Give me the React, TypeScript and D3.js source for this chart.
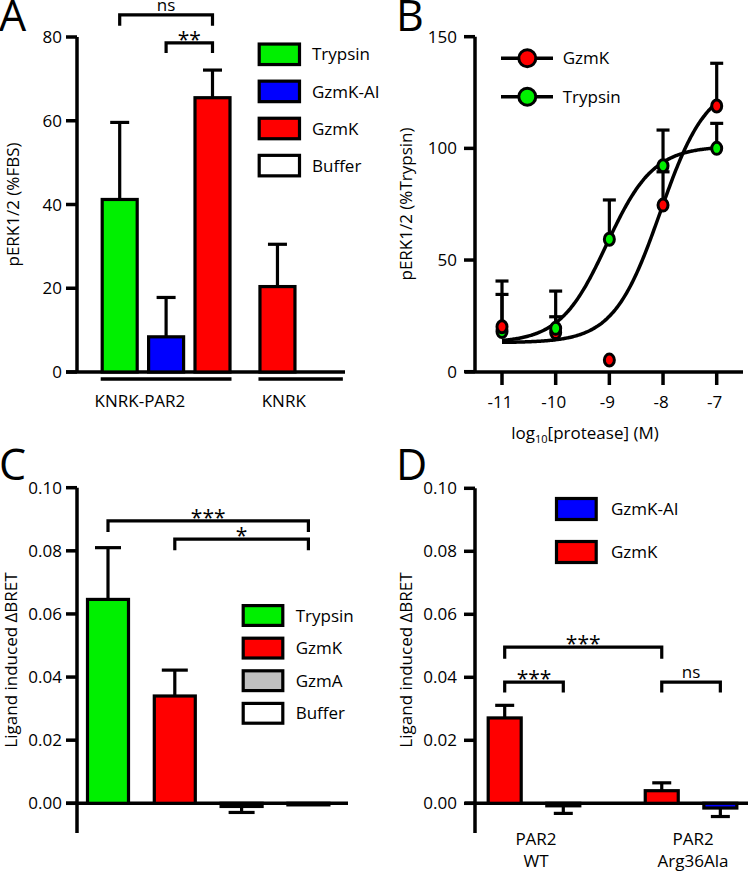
import React from "react";
import * as d3 from "d3";

const FONT = "'Open Sans', 'Noto Sans', Arial, sans-serif";
const FS = 17;

// ---------- Panel A data ----------
const aLegend = ["Trypsin", "GzmK-AI", "GzmK", "Buffer"];
const aLegendColors = ["#00f000", "#0000ff", "#ff0000", "#ffffff"];
const aGroups = ["KNRK-PAR2", "KNRK"];
const aBarGroup = [0, 0, 0, 1, 1];
const aBarTreatment = ["Trypsin", "GzmK-AI", "GzmK", "GzmK", "Buffer"];
const aMean = [41.2, 8.4, 65.5, 20.4, 0];
const aSem = [18.4, 9.4, 6.6, 10.1, 0];
const aTicks = [0, 20, 40, 60, 80];
const aBrackets = [
  { a: 0, b: 2, label: "ns", top: 85.3, leg: 82.7 },
  { a: 1, b: 2, label: "**", top: 78.6, leg: 76.2 },
];

// ---------- Panel B data ----------
const bDoses = [-11, -10, -9, -8, -7];
const bGzmK = [20.1, 17.5, 5.2, 74.6, 119];
const bGzmKErr = [20.5, 7.1, 0, 14.9, 19.1];
const bTrypsin = [18, 19.4, 59.3, 92.2, 100];
const bTrypsinErr = [16.6, 16.7, 17.6, 16, 11.2];
const bTicksY = [0, 50, 100, 150];
// four-parameter logistic fits (bottom, top, logEC50, hill)
const bFitGzmK = [13, 130, -8.05, 1];
const bFitTrypsin = [13, 101, -9.05, 1];

// ---------- Panel C data ----------
const cTreatments = ["Trypsin", "GzmK", "GzmA", "Buffer"];
const cColors = ["#00f000", "#ff0000", "#c0c0c0", "#ffffff"];
const cMean = [0.0646, 0.034, -0.001, -0.0005];
const cSem = [0.0164, 0.0082, 0.0019, 0];
const cTicks = [0, 0.02, 0.04, 0.06, 0.08, 0.1];
const cBrackets = [
  { a: 0, b: 3, label: "***", top: 0.0895, leg: 0.086 },
  { a: 1, b: 3, label: "*", top: 0.0837, leg: 0.0802 },
];

// ---------- Panel D data ----------
const dLegend = ["GzmK-AI", "GzmK"];
const dLegendColors = ["#0000ff", "#ff0000"];
const dGroupLabels = [["PAR2", "WT"], ["PAR2", "Arg36Ala"]];
const dBarGroup = [0, 0, 1, 1];
const dBarTreatment = ["GzmK", "GzmK-AI", "GzmK", "GzmK-AI"];
const dMean = [0.0271, -0.0008, 0.004, -0.0015];
const dSem = [0.004, 0.0024, 0.0025, 0.0027];
const dBrackets = [
  { a: 0, b: 2, label: "***", top: 0.0496, leg: 0.0459 },
  { a: 0, b: 1, label: "***", top: 0.0385, leg: 0.0352 },
  { a: 2, b: 3, label: "ns", top: 0.0385, leg: 0.0352 },
];

const colorOf: Record<string, string> = {
  Trypsin: "#00f000",
  "GzmK-AI": "#0000ff",
  GzmK: "#ff0000",
  GzmA: "#c0c0c0",
  Buffer: "#ffffff",
};

const SW = 3.2;

function YAxis({ x, y, ticks, fmt, tickLen, labelX, top, bottom }: any) {
  return (
    <g>
      <line x1={x} x2={x} y1={top} y2={bottom} stroke="#000" strokeWidth={3.5} />
      {ticks.map((t: number) => (
        <g key={t}>
          <line x1={x - tickLen} x2={x} y1={y(t)} y2={y(t)} stroke="#000" strokeWidth={3.5} />
          <text x={labelX} y={y(t)} dy="0.36em" textAnchor="end" fontSize={FS} fontFamily={FONT}>
            {fmt(t)}
          </text>
        </g>
      ))}
    </g>
  );
}

function Bars({ centers, y, means, sems, treatments, width, capW }: any) {
  return (
    <g>
      {means.map((m: number, i: number) => {
        const cx = centers[i];
        const y0 = y(0);
        const y1 = y(m);
        const ye = y(m + (m >= 0 ? sems[i] : -sems[i]));
        return (
          <g key={i}>
            {sems[i] > 0 && (
              <g stroke="#000" strokeWidth={SW}>
                <line x1={cx} x2={cx} y1={y1} y2={ye} />
                <line x1={cx - capW / 2} x2={cx + capW / 2} y1={ye} y2={ye} />
              </g>
            )}
            <rect
              x={cx - width / 2}
              width={width}
              y={Math.min(y0, y1)}
              height={Math.abs(y1 - y0)}
              fill={colorOf[treatments[i]]}
              stroke="#000"
              strokeWidth={SW}
            />
          </g>
        );
      })}
    </g>
  );
}

function Brackets({ items, centers, y, fs }: any) {
  return (
    <g>
      {items.map((b: any, i: number) => {
        const x1 = centers[b.a];
        const x2 = centers[b.b];
        const yt = y(b.top);
        const yl = y(b.leg);
        const isStar = b.label.indexOf("*") >= 0;
        return (
          <g key={i}>
            <path
              d={`M${x1},${yl}V${yt}H${x2}V${yl}`}
              fill="none"
              stroke="#000"
              strokeWidth={3.2}
            />
            <text
              x={(x1 + x2) / 2}
              y={isStar ? yt + 4 : yt - 4}
              textAnchor="middle"
              fontSize={isStar ? fs + 4 : fs}
              fontFamily={FONT}
            >
              {b.label}
            </text>
          </g>
        );
      })}
    </g>
  );
}

function BoxLegend({ labels, colors, x, y0, step, w, h, textX }: any) {
  return (
    <g>
      {labels.map((l: string, i: number) => (
        <g key={l}>
          <rect
            x={x}
            y={y0 + i * step - h / 2}
            width={w}
            height={h}
            fill={colors[i]}
            stroke="#000"
            strokeWidth={SW}
          />
          <text x={textX} y={y0 + i * step} dy="0.36em" fontSize={FS} fontFamily={FONT}>
            {l}
          </text>
        </g>
      ))}
    </g>
  );
}

function logistic(p: number[], x: number) {
  const [bottom, top, ec, hill] = p;
  return bottom + (top - bottom) / (1 + Math.pow(10, hill * (ec - x)));
}

function PanelA() {
  const y = d3.scaleLinear().domain([0, 80]).range([372, 37]);
  const slot = d3.scaleLinear().domain([0, 1]).range([119.7, 166.1]);
  const groupGap = 0.4;
  const centers = aMean.map((_, i) => slot(i + aBarGroup[i] * groupGap));
  const barW = 35;
  const groupExtents = aGroups.map((_, g) => {
    const cs = centers.filter((_, i) => aBarGroup[i] === g);
    return [d3.min(cs)! - barW / 2 - 1.5, d3.max(cs)! + barW / 2 + 1.5];
  });
  return (
    <g>
      <text x={-1} y={31} fontSize={43} fontFamily={FONT}>A</text>
      <YAxis x={77} y={y} ticks={aTicks} fmt={(t: number) => `${t}`} tickLen={11} labelX={62} top={37} bottom={372} />
      <line x1={66} x2={345} y1={372} y2={372} stroke="#000" strokeWidth={3.5} />
      <Bars centers={centers} y={y} means={aMean} sems={aSem} treatments={aBarTreatment} width={barW} capW={19} />
      {groupExtents.map(([a, b], g) => (
        <g key={g}>
          <line x1={a} x2={b} y1={379} y2={379} stroke="#000" strokeWidth={3.5} />
          <text x={a + (b - a) * 0.3} y={407} textAnchor="middle" fontSize={FS} fontFamily={FONT}>
            {aGroups[g]}
          </text>
        </g>
      ))}
      <Brackets items={aBrackets} centers={centers} y={y} fs={FS} />
      <BoxLegend labels={aLegend} colors={aLegendColors} x={259.2} y0={54.3} step={37.1} w={40.3} h={20.5} textX={312} />
      <text transform="translate(19,204.5) rotate(-90)" textAnchor="middle" fontSize={FS} fontFamily={FONT}>
        pERK1/2 (%FBS)
      </text>
    </g>
  );
}

function PanelB() {
  const x = d3.scaleLinear().domain([-11, -7]).range([502, 716.7]);
  const y = d3.scaleLinear().domain([0, 150]).range([371.7, 36.7]);
  const curveX = d3.range(-11, -6.999, 0.02);
  const line = d3
    .line<number>()
    .x((d) => x(d))
    .curve(d3.curveBasis);
  const pathG = line.y((d) => y(logistic(bFitGzmK, d)))(curveX);
  const pathT = line.y((d) => y(logistic(bFitTrypsin, d)))(curveX);
  const series = [
    { name: "GzmK", vals: bGzmK, errs: bGzmKErr, color: "#ff0000" },
    { name: "Trypsin", vals: bTrypsin, errs: bTrypsinErr, color: "#00f000" },
  ];
  const pts: any[] = [];
  series.forEach((s) =>
    s.vals.forEach((v, i) => pts.push({ x: bDoses[i], v, e: s.errs[i], color: s.color }))
  );
  pts.sort((a, b) => a.v - b.v);
  return (
    <g>
      <text x={396} y={31} fontSize={43} fontFamily={FONT}>B</text>
      <YAxis x={475} y={y} ticks={bTicksY} fmt={(t: number) => `${t}`} tickLen={11} labelX={457} top={36.7} bottom={372} />
      <line x1={465} x2={743} y1={372} y2={372} stroke="#000" strokeWidth={3.5} />
      {bDoses.map((d) => (
        <g key={d}>
          <line x1={x(d)} x2={x(d)} y1={372} y2={385} stroke="#000" strokeWidth={3.5} />
          <text x={x(d) - 2} y={408} textAnchor="middle" fontSize={FS} fontFamily={FONT}>
            {`${d}`}
          </text>
        </g>
      ))}
      <path d={pathG!} fill="none" stroke="#000" strokeWidth={3.5} />
      <path d={pathT!} fill="none" stroke="#000" strokeWidth={3.5} />
      {pts.map((p, i) =>
        p.e > 0 ? (
          <g key={"e" + i} stroke="#000" strokeWidth={SW}>
            <line x1={x(p.x)} x2={x(p.x)} y1={y(p.v)} y2={y(p.v + p.e)} />
            <line x1={x(p.x) - 6.5} x2={x(p.x) + 6.5} y1={y(p.v + p.e)} y2={y(p.v + p.e)} />
          </g>
        ) : null
      )}
      {pts.map((p, i) => (
        <ellipse key={"p" + i} cx={x(p.x)} cy={y(p.v)} rx={5} ry={6} fill={p.color} stroke="#000" strokeWidth={3} />
      ))}
      {series.map((s, i) => (
        <g key={s.name}>
          <line x1={501} x2={553} y1={58.3 + i * 38.4} y2={58.3 + i * 38.4} stroke="#000" strokeWidth={3.5} />
          <circle cx={527.3} cy={58.3 + i * 38.4} r={8.5} fill={s.color} stroke="#000" strokeWidth={3} />
          <text x={562.7} y={58.3 + i * 38.4} dy="0.36em" fontSize={FS} fontFamily={FONT}>
            {s.name}
          </text>
        </g>
      ))}
      <text transform="translate(412,204) rotate(-90)" textAnchor="middle" fontSize={FS} fontFamily={FONT}>
        pERK1/2 (%Trypsin)
      </text>
      <text x={585} y={439} textAnchor="middle" fontSize={FS} fontFamily={FONT}>
        log<tspan fontSize={11} dy={4}>10</tspan>
        <tspan dy={-4}>[protease] (M)</tspan>
      </text>
    </g>
  );
}

function PanelC() {
  const y = d3.scaleLinear().domain([0, 0.1]).range([803.3, 487.7]);
  const slot = d3.scaleLinear().domain([0, 1]).range([108, 174.8]);
  const centers = cMean.map((_, i) => slot(i));
  return (
    <g>
      <text x={-1} y={480} fontSize={43} fontFamily={FONT}>C</text>
      <YAxis x={77} y={y} ticks={cTicks} fmt={d3.format(".2f")} tickLen={11} labelX={62} top={487.7} bottom={833} />
      <line x1={66} x2={348} y1={803.3} y2={803.3} stroke="#000" strokeWidth={3.5} />
      <Bars centers={centers} y={y} means={cMean} sems={cSem} treatments={cTreatments} width={41} capW={26} />
      <Brackets items={cBrackets} centers={centers} y={y} fs={FS} />
      <BoxLegend labels={cTreatments} colors={cColors} x={243.2} y0={615.5} step={32.6} w={39.6} h={19.8} textX={295.7} />
      <text transform="translate(17,660) rotate(-90)" textAnchor="middle" fontSize={FS} fontFamily={FONT}>
        Ligand induced ΔBRET
      </text>
    </g>
  );
}

function PanelD() {
  const y = d3.scaleLinear().domain([0, 0.1]).range([803.3, 488.3]);
  const slot = d3.scaleLinear().domain([0, 1]).range([504.7, 563.3]);
  const groupGap = 0.68;
  const centers = dMean.map((_, i) => slot(i + dBarGroup[i] * groupGap));
  const groupCenters = dGroupLabels.map((_, g) => d3.mean(centers.filter((_, i) => dBarGroup[i] === g))!);
  return (
    <g>
      <text x={396} y={480} fontSize={43} fontFamily={FONT}>D</text>
      <YAxis x={475} y={y} ticks={cTicks} fmt={d3.format(".2f")} tickLen={11} labelX={457} top={488.3} bottom={833} />
      <line x1={465} x2={748} y1={803.3} y2={803.3} stroke="#000" strokeWidth={3.5} />
      <Bars centers={centers} y={y} means={dMean} sems={dSem} treatments={dBarTreatment} width={33} capW={19} />
      <Brackets items={dBrackets} centers={centers} y={y} fs={FS} />
      <BoxLegend labels={dLegend} colors={dLegendColors} x={556.5} y0={509} step={43} w={39.7} h={21} textX={611} />
      {dGroupLabels.map((lines, g) => (
        <text key={g} textAnchor="middle" fontSize={FS} fontFamily={FONT}>
          {lines.map((l, k) => (
            <tspan key={k} x={groupCenters[g] + 2} y={845 + k * 21.7}>
              {l}
            </tspan>
          ))}
        </text>
      ))}
      <text transform="translate(412,660) rotate(-90)" textAnchor="middle" fontSize={FS} fontFamily={FONT}>
        Ligand induced ΔBRET
      </text>
    </g>
  );
}

export default function App() {
  return (
    <svg
      width={750}
      height={873}
      viewBox="0 0 750 873"
      style={{ position: "absolute", left: 0, top: 0, background: "#fff" }}
    >
      <rect x={0} y={0} width={750} height={873} fill="#fff" />
      <PanelA />
      <PanelB />
      <PanelC />
      <PanelD />
    </svg>
  );
}
